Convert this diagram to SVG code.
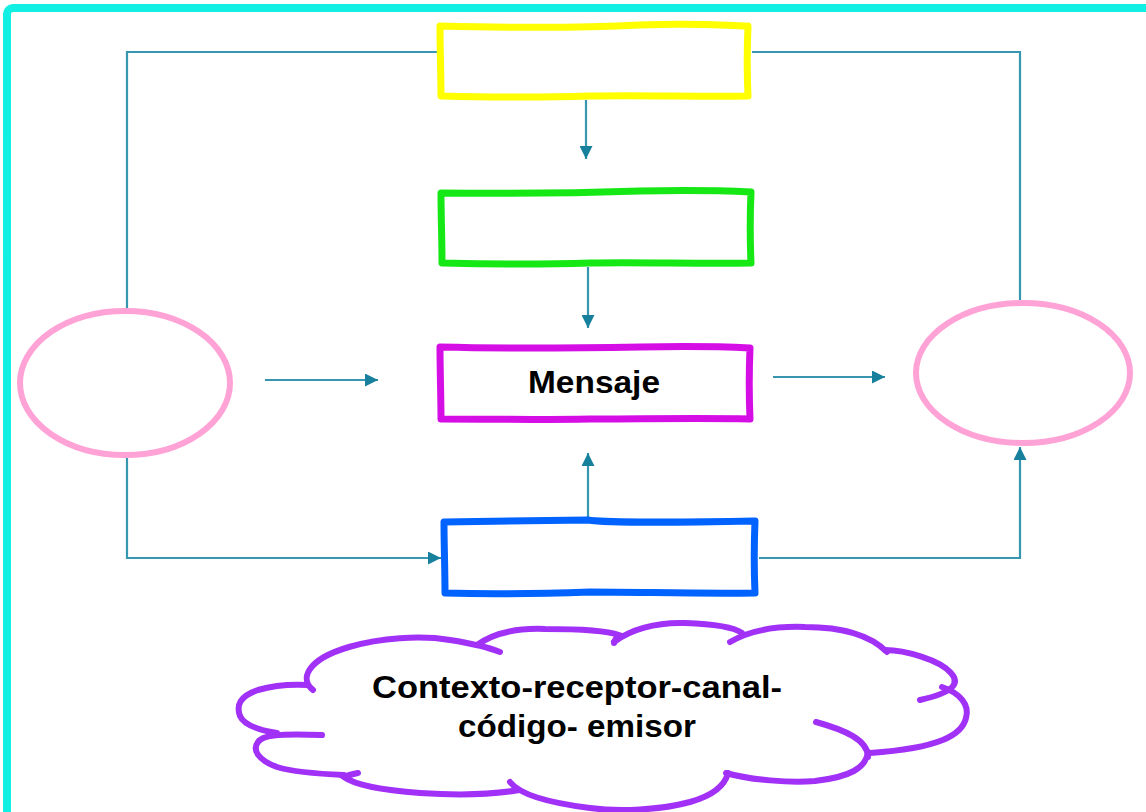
<svg xmlns="http://www.w3.org/2000/svg" width="1146" height="812" viewBox="0 0 1146 812">
<defs>
<marker id="ah" viewBox="0 0 10 10" refX="10" refY="5" markerUnits="userSpaceOnUse" markerWidth="13" markerHeight="13" orient="auto">
<path d="M0,0 L10,5 L0,10 Z" fill="#17809C"/>
</marker>
<style>
.box{fill:#ffffff;stroke-width:7;stroke-linejoin:round;stroke-linecap:round}
.ell{fill:#ffffff;stroke:#FFA2D6;stroke-width:6}
.con{fill:none;stroke:#3797B0;stroke-width:2.2}
.arr{fill:none;stroke:#3797B0;stroke-width:2.2;marker-end:url(#ah)}
.cl{fill:none;stroke:#A231F7;stroke-width:6;stroke-linecap:round}
.lbl{font-family:"Liberation Sans",Arial,sans-serif;font-weight:bold;fill:#000000;text-anchor:middle}
</style>
</defs>
<rect width="1146" height="812" fill="#ffffff"/>
<rect x="7" y="8" width="1170" height="830" rx="6" fill="none" stroke="#12EFE3" stroke-width="8"/>

<g id="connectors">
<polyline class="con" points="127,310 127,52 437,52"/>
<polyline class="con" points="752,52 1020,52 1020,300"/>
<line class="arr" x1="586" y1="100" x2="586" y2="159"/>
<line class="arr" x1="588" y1="267" x2="588" y2="328"/>
<line class="arr" x1="265" y1="380" x2="378" y2="380"/>
<line class="arr" x1="773" y1="377" x2="885" y2="377"/>
<line class="arr" x1="588" y1="518" x2="588" y2="453"/>
<polyline class="arr" points="127,458 127,558 441,558"/>
<polyline class="arr" points="759,558 1020,558 1020,447"/>
</g>

<g id="node-yellow">
<path class="box" stroke="#FFFF00" d="M440,26 C520,28 580,28 640,25 C690,23 720,25 748,26 C747,50 747,75 748,96 C700,97 650,95 590,96 C530,98 480,97 441,96 C441,75 440,50 440,26 Z"/>
</g>
<g id="node-green">
<path class="box" stroke="#16E816" d="M441,193 C520,194 580,193 640,191 C690,190 730,191 751,192 C750,215 750,240 751,263 C700,264 640,262 590,263 C530,265 480,264 442,263 C442,240 441,215 441,193 Z"/>
</g>
<g id="node-mensaje">
<path class="box" stroke="#D60EE6" d="M440,347 C520,349 580,348 640,347 C690,346 730,347 750,348 C749,372 749,396 750,419 C700,418 640,419 590,419 C530,420 480,419 441,419 C441,396 440,372 440,347 Z"/>
<text class="lbl" x="594" y="393" font-size="32" textLength="132" lengthAdjust="spacingAndGlyphs">Mensaje</text>
</g>
<g id="node-blue">
<path class="box" stroke="#0062FF" d="M444,522 C520,521 580,520 588,520 C600,522 660,523 755,521 C754,545 754,570 755,593 C700,594 640,592 590,592 C530,594 480,594 445,593 C445,570 444,545 444,522 Z"/>
</g>
<g id="node-emisor">
<ellipse class="ell" cx="125" cy="383" rx="105" ry="72"/>
</g>
<g id="node-receptor">
<ellipse class="ell" cx="1023" cy="373" rx="107" ry="70"/>
</g>

<g id="node-cloud">
<path class="cl" d="M313,690 C300,680 305,660 349,647 C380,638 420,635 450,640 C475,644 490,648 500,652"/>
<path class="cl" d="M477,645 C495,632 520,628 545,629 C580,629 605,630 619,635 C616,638 614,641 614,643"/>
<path class="cl" d="M614,642 C630,630 655,622 685,623 C715,624 735,628 742,633"/>
<path class="cl" d="M730,642 C750,630 775,626 805,627 C840,627 870,635 887,652"/>
<path class="cl" d="M885,650 C905,650 940,660 951,673 C960,683 955,692 920,700"/>
<path class="cl" d="M942,687 C960,693 970,705 966,718 C962,735 940,748 870,753"/>
<path class="cl" d="M816,722 C845,730 868,740 868,757"/>
<path class="cl" d="M868,752 C866,768 850,777 815,781 C790,783 750,780 726,773"/>
<path class="cl" d="M728,773 C725,785 715,795 690,802 C660,810 620,812 590,808 C550,803 520,795 510,782"/>
<path class="cl" d="M519,790 C490,795 450,795 420,793 C380,790 355,785 344,777 C348,775 353,774 358,773"/>
<path class="cl" d="M344,775 C320,774 290,771 277,767 C258,760 252,750 258,742 C262,736 275,733 322,735"/>
<path class="cl" d="M277,733 C258,730 244,725 240,716 C236,705 240,696 258,690 C275,685 290,684 308,685"/>
<text class="lbl" x="577" y="698" font-size="31" textLength="410" lengthAdjust="spacingAndGlyphs">Contexto-receptor-canal-</text>
<text class="lbl" x="577" y="737" font-size="31" textLength="238" lengthAdjust="spacingAndGlyphs">código- emisor</text>
</g>
</svg>
